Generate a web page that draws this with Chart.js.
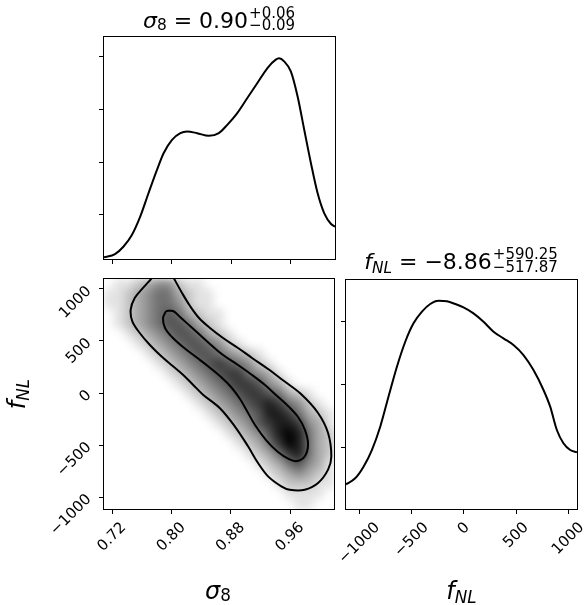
<!DOCTYPE html>
<html>
<head>
<meta charset="utf-8">
<script src="https://cdn.jsdelivr.net/npm/chart.js@4.4.1/dist/chart.umd.min.js"></script>
<style>
  html, body { margin: 0; padding: 0; background: #fff; }
  #wrap { position: relative; width: 586px; height: 605px; overflow: hidden; }
  #wrap > canvas { position: absolute; left: 0; top: 0; }
  #densBox { position: absolute; left: 104px; top: 279px; width: 230px; height: 230px; overflow: hidden; }
  #dens { position: absolute; left: -104px; top: -279px; filter: blur(4px); }
</style>
</head>
<body>
<div id="wrap">
  <div id="densBox"><canvas id="dens" width="586" height="605"></canvas></div>
  <canvas id="top" width="586" height="605"></canvas>
  <canvas id="joint" width="586" height="605"></canvas>
  <canvas id="side" width="586" height="605"></canvas>
</div>
<script>
// axis limits and ticks
const sigmaRange = [0.7092, 1.0193];
const fnlRange = [-1115, 1096];
const fnlRangeSide = [-1130, 1084];
const sigmaTicks = [0.72, 0.80, 0.88, 0.96];
const fnlTicks = [-1000, -500, 0, 500, 1000];
const topRange = [0.166, 4.373];
const topTicks = [1, 2, 3, 4];
const sideRange = [0.016, 3.651];
const sideTicks = [1, 2, 3];

// 1D marginal of sigma_8
const sigmaHistX = [0.7092, 0.7240, 0.7352, 0.7466, 0.7578, 0.7689, 0.7803, 0.7892, 0.8005, 0.8117,
  0.8207, 0.8342, 0.8499, 0.8633, 0.8747, 0.8881, 0.9016, 0.9151, 0.9286, 0.9398,
  0.9442, 0.9510, 0.9600, 0.9691, 0.9780, 0.9870, 0.9960, 1.0049, 1.0140, 1.0193];
const sigmaHistY = [0.197, 0.260, 0.398, 0.620, 0.968, 1.412, 1.854, 2.171, 2.424, 2.551,
  2.582, 2.551, 2.500, 2.551, 2.709, 2.931, 3.216, 3.500, 3.785, 3.943,
  3.968, 3.911, 3.721, 3.246, 2.614, 1.982, 1.412, 1.032, 0.829, 0.778];

// 1D marginal of f_NL
const fnlHistX = [-1130, -1042, -962, -882, -802, -723, -642, -562, -483, -402, -323, -243, -163, -83,
  -4, 92, 188, 284, 379, 475, 571, 667, 763, 827, 891, 954, 1019, 1084];
const fnlHistY = [0.408, 0.503, 0.687, 0.952, 1.322, 1.798, 2.275, 2.671, 2.963, 3.148, 3.270, 3.322, 3.313, 3.270,
  3.217, 3.122, 2.989, 2.830, 2.725, 2.619, 2.460, 2.222, 1.905, 1.640, 1.270, 1.059, 0.952, 0.916];

// contours of the 2D posterior
const outerSigma = [0.7793, 0.7726, 0.7618, 0.7506, 0.7452, 0.7474, 0.7574, 0.7708, 0.7865, 0.8023,
  0.8157, 0.8292, 0.8427, 0.8652, 0.8855, 0.9034, 0.9169, 0.9304, 0.9483, 0.9596,
  0.9798, 0.9978, 1.0113, 1.0157, 1.0113, 0.9978, 0.9748, 0.9519, 0.9304, 0.9088,
  0.8899, 0.8697, 0.8521, 0.8373, 0.8252, 0.8144, 0.8045, 0.8001];
const outerFnl = [1150, 1096, 1010, 913, 801, 689, 577, 464, 353, 257,
  176, 80, -16, -144, -320, -512, -673, -801, -897, -930,
  -930, -865, -737, -609, -385, -192, -10, 115, 231, 337,
  433, 529, 625, 721, 836, 962, 1089, 1150];
const innerSigma = [0.7928, 0.8023, 0.8117, 0.8252, 0.8387, 0.8535, 0.8697, 0.8899, 0.9088, 0.9263,
  0.9411, 0.9560, 0.9708, 0.9802, 0.9843, 0.9802, 0.9695, 0.9587, 0.9438, 0.9277,
  0.9128, 0.9020, 0.8926, 0.8805, 0.8670, 0.8508, 0.8333, 0.8157, 0.8009, 0.7915,
  0.7888, 0.7928];
const innerFnl = [788, 788, 731, 644, 558, 462, 365, 269, 173, 77,
  -19, -115, -231, -356, -490, -606, -654, -635, -567, -452,
  -308, -173, -58, 58, 154, 250, 346, 442, 538, 625,
  721, 788];

// density image: cell centres and darkness 0 (white) .. 9 (black), rows from top
const densSigma = [0.716, 0.729, 0.743, 0.756, 0.770, 0.783, 0.797, 0.810, 0.824, 0.837, 0.851, 0.864,
  0.878, 0.891, 0.905, 0.918, 0.932, 0.945, 0.959, 0.972, 0.986, 0.999, 1.013];
const densFnl = [1048, 952, 856, 760, 663, 567, 471, 375, 279, 183, 87, -10,
  -106, -202, -298, -394, -490, -587, -683, -779, -875, -971, -1067];
const densRows = [
  "01123442110000000000000",
  "11234553211000000000000",
  "11234554211000000000000",
  "01234565321100000000000",
  "01234566532100000000000",
  "00123456653210000000000",
  "00012345665421000000000",
  "00001234566543210000000",
  "00000123456765421000000",
  "00000012345677543100000",
  "00000001234567764310000",
  "00000000123456776532100",
  "00000000012345678754210",
  "00000000001234568875321",
  "00000000000123467887431",
  "00000000000012346898532",
  "00000000000001235798532",
  "00000000000000123578532",
  "00000000000000012356431",
  "00000000000000001234321",
  "00000000000000000122211",
  "00000000000000000011110",
  "00000000000000000001100"
];

Chart.defaults.font.family = "'DejaVu Sans', sans-serif";
Chart.defaults.color = '#000';
Chart.defaults.animation = false;

const FONT = "'DejaVu Sans'";

function fmtSigma(v) { return v.toFixed(2); }
function fmtFnl(v) { return String(v).replace('-', '\u2212'); }

function axis(pos, range, ticks, fmt, labels) {
  const horiz = pos === 'bottom';
  return {
    type: 'linear',
    position: pos,
    min: range[0],
    max: range[1],
    afterBuildTicks: s => { s.ticks = ticks.map(v => ({ value: v })); },
    afterFit: s => {
      if (horiz) s.height = 60; else s.width = 90;
      s.paddingLeft = s.paddingRight = s.paddingTop = s.paddingBottom = 0;
    },
    border: { display: false },
    grid: { display: true, drawOnChartArea: false, drawTicks: true, tickLength: 5, tickColor: '#000', tickWidth: 1 },
    ticks: {
      display: labels,
      color: '#000',
      font: { size: 15 },
      padding: horiz ? 5 : 10,
      minRotation: 45,
      maxRotation: 45,
      autoSkip: false,
      callback: v => fmt(v)
    }
  };
}

// rotated x labels: centre each label's box on its tick, as matplotlib does
const centerLabels = {
  id: 'centerLabels',
  beforeDraw(chart) {
    const s = chart.scales.x;
    if (!s.options.ticks.display) return;
    const items = s.getLabelItems();
    if (items._centered) return;
    items.forEach(it => {
      chart.ctx.font = it.font.string;
      const w = chart.ctx.measureText(it.label).width;
      it.options.translation[0] += w * Math.SQRT1_2 / 2;
    });
    items._centered = true;
  }
};

const frame = {
  id: 'frame',
  afterDraw(chart) {
    const { ctx, chartArea: a } = chart;
    ctx.save();
    ctx.strokeStyle = '#000';
    ctx.lineWidth = 1;
    ctx.strokeRect(Math.round(a.left) - 0.5, Math.round(a.top) - 0.5,
      Math.round(a.right - a.left) + 1, Math.round(a.bottom - a.top) + 1);
    ctx.restore();
  }
};

// mathtext-like labels: italic symbols, sub and stacked sup/sub scripts
function fontFor(size, it) { return (it ? 'italic ' : '') + size.toFixed(1) + 'px ' + FONT; }

function drawMath(ctx, parts, S, cx, base, rot) {
  const items = [];
  let w = 0;
  for (const p of parts) {
    if (p.stack) {
      const s = 0.68 * S;
      ctx.font = fontFor(s, false);
      const w1 = ctx.measureText(p.stack[0]).width;
      const w2 = ctx.measureText(p.stack[1]).width;
      items.push({ x: w + 1, t: p.stack[0], size: s, dy: -0.46 * S });
      items.push({ x: w + 1, t: p.stack[1], size: s, dy: 0.12 * S });
      w += Math.max(w1, w2) + 1;
    } else {
      const s = p.sub ? 0.7 * S : S;
      ctx.font = fontFor(s, p.it);
      items.push({ x: w, t: p.t, size: s, it: p.it, dy: (p.dy || 0) * S });
      w += ctx.measureText(p.t).width;
    }
  }
  ctx.save();
  ctx.translate(cx, base);
  if (rot) ctx.rotate(rot);
  ctx.fillStyle = '#000';
  ctx.textAlign = 'left';
  ctx.textBaseline = 'alphabetic';
  for (const it of items) {
    ctx.font = fontFor(it.size, it.it);
    ctx.fillText(it.t, it.x - w / 2, it.dy);
  }
  ctx.restore();
}

function labelPlugin(list) {
  return {
    id: 'mathLabels',
    afterDraw(chart) {
      list.forEach(l => drawMath(chart.ctx, l.parts, l.size, l.x, l.y, l.rot || 0));
    }
  };
}

const sigmaLabel = [{ t: '\u03c3', it: true }, { t: '8', sub: true, dy: 0.09 }];
const fnlLabel = [{ t: 'f', it: true }, { t: 'NL', it: true, sub: true, dy: 0.18 }];
const topTitle = sigmaLabel.concat([{ t: ' = 0.90' }, { stack: ['+0.06', '\u22120.09'] }]);
const sideTitle = fnlLabel.concat([{ t: ' = \u22128.86' }, { stack: ['+590.25', '\u2212517.87'] }]);

function baseOptions(padding, scales) {
  return {
    responsive: false,
    animation: false,
    events: [],
    layout: { autoPadding: false, padding },
    plugins: { legend: { display: false }, tooltip: { enabled: false } },
    scales
  };
}

// density image
const densPoints = [];
const densColors = [];
densRows.forEach((row, j) => {
  row.split('').forEach((ch, i) => {
    const g = Math.round(255 * (1 - Number(ch) / 9));
    densPoints.push({ x: densSigma[i], y: densFnl[j] });
    densColors.push('rgb(' + g + ',' + g + ',' + g + ')');
  });
});

new Chart(document.getElementById('dens'), {
  type: 'scatter',
  data: {
    datasets: [{
      data: densPoints,
      backgroundColor: densColors,
      pointStyle: 'rect',
      pointRadius: 7.5,
      borderWidth: 0,
      clip: false
    }]
  },
  options: baseOptions({ left: 104, top: 279, right: 252, bottom: 96 }, {
    x: { type: 'linear', display: false, min: sigmaRange[0], max: sigmaRange[1] },
    y: { type: 'linear', display: false, min: fnlRange[0], max: fnlRange[1] }
  })
});

// top: sigma_8 marginal
new Chart(document.getElementById('top'), {
  type: 'scatter',
  data: {
    datasets: [{
      data: sigmaHistX.map((x, i) => ({ x, y: sigmaHistY[i] })),
      showLine: true,
      borderColor: '#000',
      borderWidth: 2,
      pointRadius: 0,
      cubicInterpolationMode: 'monotone',
      clip: 0
    }]
  },
  options: baseOptions({ left: 14, top: 37, right: 251, bottom: 286 }, {
    x: axis('bottom', sigmaRange, sigmaTicks, fmtSigma, false),
    y: axis('left', topRange, topTicks, v => '', false)
  }),
  plugins: [frame, labelPlugin([{ parts: topTitle, size: 22, x: 219, y: 27.7 }])]
});

// joint: contours
new Chart(document.getElementById('joint'), {
  type: 'scatter',
  data: {
    datasets: [
      {
        data: innerSigma.map((x, i) => ({ x, y: innerFnl[i] })),
        showLine: true, borderColor: '#000', borderWidth: 2, pointRadius: 0, tension: 0.35, clip: 0
      },
      {
        data: outerSigma.map((x, i) => ({ x, y: outerFnl[i] })),
        showLine: true, borderColor: '#000', borderWidth: 2, pointRadius: 0, tension: 0.35, clip: 0
      }
    ]
  },
  options: baseOptions({ left: 14, top: 279, right: 252, bottom: 36 }, {
    x: axis('bottom', sigmaRange, sigmaTicks, fmtSigma, true),
    y: axis('left', fnlRange, fnlTicks, fmtFnl, true)
  }),
  plugins: [centerLabels, frame, labelPlugin([
    { parts: sigmaLabel, size: 24, x: 218, y: 598.5 },
    { parts: fnlLabel, size: 24, x: 25, y: 394, rot: -Math.PI / 2 }
  ])]
});

// side: f_NL marginal
new Chart(document.getElementById('side'), {
  type: 'scatter',
  data: {
    datasets: [{
      data: fnlHistX.map((x, i) => ({ x, y: fnlHistY[i] })),
      showLine: true,
      borderColor: '#000',
      borderWidth: 2,
      pointRadius: 0,
      cubicInterpolationMode: 'monotone',
      clip: 0
    }]
  },
  options: baseOptions({ left: 256, top: 280, right: 9, bottom: 36 }, {
    x: axis('bottom', fnlRangeSide, fnlTicks, fmtFnl, true),
    y: axis('left', sideRange, sideTicks, v => '', false)
  }),
  plugins: [centerLabels, frame, labelPlugin([
    { parts: sideTitle, size: 22, x: 461, y: 269.3 },
    { parts: fnlLabel, size: 24, x: 461.5, y: 598.5 }
  ])]
});
</script>
</body>
</html>
